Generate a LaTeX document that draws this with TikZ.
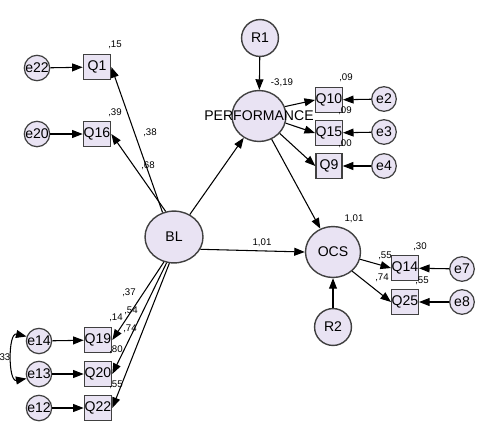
\documentclass[tikz,border=0pt]{standalone}
\usepackage{fontspec}
\setmainfont{Liberation Sans}
\usetikzlibrary{arrows.meta,shapes.geometric}
\definecolor{semfill}{RGB}{233,227,243}

\begin{document}
\begin{tikzpicture}[x=0.02cm,y=-0.02cm,>={Triangle[length=6pt,width=4.5pt]},
	obs/.style={draw=black!75,line width=0.8pt,fill=semfill,minimum width=15.5pt,minimum height=14.5pt,inner sep=0pt,font=\fontsize{8}{9}\selectfont},
	err/.style={circle,draw=black!75,line width=0.7pt,fill=semfill,minimum size=14pt,inner sep=0pt,font=\fontsize{8}{9}\selectfont},
	latent/.style={ellipse,draw=black!75,line width=0.8pt,fill=semfill,inner sep=0pt,font=\fontsize{8}{9}\selectfont},
	est/.style={inner sep=0pt,font=\fontsize{5.5}{6}\selectfont},
	reg/.style={->,line width=0.6pt}]
\useasboundingbox (0,0) rectangle (482,433);

% Latent variables and residuals
\node[latent,minimum width=33pt,minimum height=29.5pt] (BL) at (174,237) {BL};
\node[latent,minimum width=30.7pt,minimum height=29pt,label={[font=\fontsize{8}{9}\selectfont]center:PERFORMANCE}] (PERF) at (259,116) {};
\node[latent,minimum width=31.3pt,minimum height=29pt] (OCS) at (333,252) {OCS};
\node[latent,minimum size=21pt] (R1) at (260,38) {R1};
\node[latent,minimum size=21pt] (R2) at (333,327) {R2};

% Indicators of BL
\node[obs] (Q1) at (97,67) {Q1};
\node[obs] (Q16) at (97,134) {Q16};
\node[obs] (Q19) at (98,340) {Q19};
\node[obs] (Q20) at (98,374) {Q20};
\node[obs] (Q22) at (98,408) {Q22};
\node[err] (e22) at (37,68) {e22};
\node[err] (e20) at (37,134) {e20};
\node[err] (e14) at (39,341) {e14};
\node[err] (e13) at (39,374) {e13};
\node[err] (e12) at (39,408) {e12};

% Indicators of PERFORMANCE and OCS
\node[obs,minimum width=14.8pt,minimum height=14.2pt] (Q10) at (329,100) {Q10};
\node[obs,minimum width=14.8pt,minimum height=14.2pt] (Q15) at (329,133) {Q15};
\node[obs,minimum width=14.8pt,minimum height=14.2pt] (Q9) at (329,166) {Q9};
\node[obs,minimum width=14.8pt,minimum height=14.2pt] (Q14) at (405,268) {Q14};
\node[obs,minimum width=14.8pt,minimum height=14.2pt] (Q25) at (405,302) {Q25};
\node[err] (e2) at (384,99) {e2};
\node[err] (e3) at (384,132) {e3};
\node[err] (e4) at (384,166) {e4};
\node[err] (e7) at (462,269) {e7};
\node[err] (e8) at (462,302) {e8};

% Structural paths
\draw[reg] (BL) -- (PERF);
\draw[reg] (PERF) -- (OCS);
\draw[reg] (BL.-25) -- (OCS.west);
\draw[reg] (R1) -- (PERF);
\draw[reg] (R2) -- (OCS);

% Loadings
\draw[reg] (BL.115) -- (Q1.east);
\draw[reg] (BL.108) -- (Q16.east);
\draw[reg] (BL.-112) -- (Q19.east);
\draw[reg] (BL.-106) -- (Q20.east);
\draw[reg] (BL.-100) -- (Q22.east);
\draw[reg] (PERF.20) -- (Q10.west);
\draw[reg] (PERF.-15) -- (Q15.west);
\draw[reg] (PERF.-40) -- (Q9.west);
\draw[reg] (OCS.-15) -- (Q14.west);
\draw[reg] (OCS.-45) -- (Q25.west);

% Error terms
\draw[reg] (e22) -- (Q1);
\draw[reg] (e20) -- (Q16);
\draw[reg] (e14) -- (Q19);
\draw[reg] (e13) -- (Q20);
\draw[reg] (e12) -- (Q22);
\draw[reg] (e2) -- (Q10);
\draw[reg] (e3) -- (Q15);
\draw[reg] (e4) -- (Q9);
\draw[reg] (e7) -- (Q14);
\draw[reg] (e8) -- (Q25);
\draw[<->,line width=0.6pt] (e14.160) .. controls (8,332) and (8,382) .. (e13.200);

% Estimates
\node[est] (sQ1) at (115,45) {,15};
\node[est] (sQ16) at (115,113) {,39};
\node[est] (wQ1) at (150,133) {,38};
\node[est] (wQ16) at (148,166) {,68};
\node[est] (wQ19) at (129,293) {,37};
\node[est] (wQ20) at (131,311) {,54};
\node[est] (sQ19) at (116,318) {,14};
\node[est] (wQ22) at (130,329) {,74};
\node[est] (sQ20) at (116,350) {,80};
\node[est] (sQ22) at (116,385) {,55};
\node[est] (cov) at (5,357) {33};
\node[est] (sPERF) at (282,83) {-3,19};
\node[est] (sQ10) at (346,78) {,09};
\node[est] (sQ15) at (345,111) {,09};
\node[est] (sQ9) at (345,144) {,00};
\node[est] (sOCS) at (354,219) {1,01};
\node[est] (wOCS) at (262,243) {1,01};
\node[est] (wQ14) at (385,256) {,55};
\node[est] (sQ14) at (420,247) {,30};
\node[est] (wQ25) at (382,278) {,74};
\node[est] (sQ25) at (422,281) {,55};
\end{tikzpicture}
\end{document}
